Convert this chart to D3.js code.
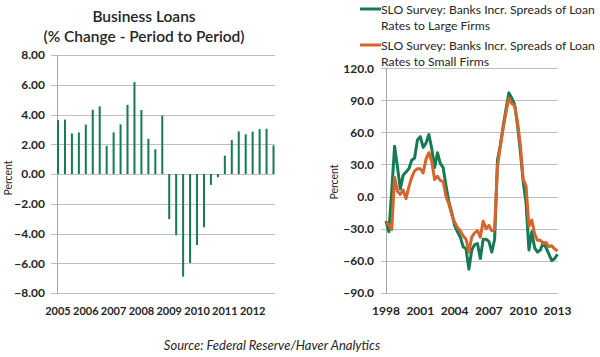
<!DOCTYPE html>
<html><head><meta charset="utf-8">
<script src="https://cdn.jsdelivr.net/npm/d3@7/dist/d3.min.js"></script>
<style>
html,body{margin:0;padding:0;background:#fff;}
svg{display:block;font-family:Lato,"Open Sans",sans-serif;}
</style></head>
<body>
<svg id="chart" width="600" height="357"></svg>
<script>
// ---------- Left chart data (Business Loans, quarterly % change) ----------
const loanQuarters = [
  "2005Q1","2005Q2","2005Q3","2005Q4","2006Q1","2006Q2","2006Q3","2006Q4",
  "2007Q1","2007Q2","2007Q3","2007Q4","2008Q1","2008Q2","2008Q3","2008Q4",
  "2009Q1","2009Q2","2009Q3","2009Q4","2010Q1","2010Q2","2010Q3","2010Q4",
  "2011Q1","2011Q2","2011Q3","2011Q4","2012Q1","2012Q2","2012Q3","2012Q4"];
const loanValues = [
  3.62, 3.66, 2.73, 2.79, 3.32, 4.32, 4.55, 1.90,
  2.80, 3.34, 4.65, 6.18, 4.30, 2.37, 1.66, 3.93,
  -3.03, -4.12, -6.90, -5.98, -4.78, -3.58, -0.73, -0.22,
  1.23, 2.28, 2.87, 2.67, 2.85, 3.02, 3.04, 1.92];
const loanYTicks = [8, 6, 4, 2, 0, -2, -4, -6, -8];
const loanXLabels = ["2005","2006","2007","2008","2009","2010","2011","2012"];

// ---------- Right chart data (SLO survey, net % of banks) ----------
const sloQuarters = [
  "1998Q1","1998Q2","1998Q3","1998Q4","1999Q1","1999Q2","1999Q3","1999Q4",
  "2000Q1","2000Q2","2000Q3","2000Q4","2001Q1","2001Q2","2001Q3","2001Q4",
  "2002Q1","2002Q2","2002Q3","2002Q4","2003Q1","2003Q2","2003Q3","2003Q4",
  "2004Q1","2004Q2","2004Q3","2004Q4","2005Q1","2005Q2","2005Q3","2005Q4",
  "2006Q1","2006Q2","2006Q3","2006Q4","2007Q1","2007Q2","2007Q3","2007Q4",
  "2008Q1","2008Q2","2008Q3","2008Q4","2009Q1","2009Q2","2009Q3","2009Q4",
  "2010Q1","2010Q2","2010Q3","2010Q4","2011Q1","2011Q2","2011Q3","2011Q4",
  "2012Q1","2012Q2","2012Q3","2012Q4","2013Q1"];
const largeFirms = [
  -23, -33, 5, 47, 28, 7, 20, 23,
  26, 34, 36, 53, 56, 46, 50, 58,
  45, 27, 41, 31, 27, 10, -5, -15,
  -27, -33, -38, -47, -49, -68, -50, -45,
  -44, -58, -40, -40, -42, -52, -40, 34,
  48, 66, 82, 97, 92, 86, 67, 42,
  14, -6, -50, -33, -48, -52, -50, -43,
  -48, -54, -60, -58, -54];
const smallFirms = [
  -25, -26, -31, 18, 5, 2, 6, -2,
  9, 18, 24, 26, 26, 22, 35, 41,
  33, 16, 19, 15, 14, 0, -7, -17,
  -24, -29, -32, -37, -40, -52, -38, -34,
  -32, -38, -23, -30, -27, -32, -31, 28,
  47, 64, 79, 92, 87, 85, 70, 48,
  16, 10, -28, -22, -35, -41, -41, -44,
  -43, -47, -46, -49, -51];
const sloYTicks = [120, 90, 60, 30, 0, -30, -60, -90];
const sloXLabels = ["1998","2001","2004","2007","2010","2013"];
const legendLabels = [
  ["SLO Survey: Banks Incr. Spreads of Loan", "Rates to Large Firms"],
  ["SLO Survey: Banks Incr. Spreads of Loan", "Rates to Small Firms"]];

const GREEN = "#167a52", ORANGE = "#d6642c", GRID = "#bfbfbf", TXT = "#262626";

const svg = d3.select("#chart");

// ================= LEFT CHART =================
const xL = d3.scalePoint().domain(loanQuarters).range([58, 273.5]);
const yL = d3.scaleLinear().domain([-8, 8]).range([293, 55]);
const gL = svg.append("g");

gL.append("g").selectAll("line").data(loanYTicks).join("line")
  .attr("x1", 51).attr("x2", 275)
  .attr("y1", d => Math.round(yL(d)) + 0.5).attr("y2", d => Math.round(yL(d)) + 0.5)
  .attr("stroke", GRID).attr("stroke-width", 1);
gL.append("line").attr("x1", 57.5).attr("x2", 57.5).attr("y1", 55).attr("y2", 293.5)
  .attr("stroke", "#a6a6a6");

gL.append("g").selectAll("text").data(loanYTicks).join("text")
  .attr("x", 45).attr("y", d => yL(d)).attr("dy", "0.36em")
  .attr("text-anchor", "end").attr("font-size", 12).attr("font-weight", 700)
  .attr("fill", TXT).text(d => d3.format(".2f")(d));

gL.append("g").selectAll("rect").data(loanValues).join("rect")
  .attr("x", (d, i) => xL(loanQuarters[i]) - 1)
  .attr("width", 2)
  .attr("y", d => yL(Math.max(0, d)))
  .attr("height", d => Math.abs(yL(d) - yL(0)))
  .attr("fill", GREEN);

gL.append("g").selectAll("text").data(loanXLabels).join("text")
  .attr("x", d => xL(d + "Q1")).attr("y", 315)
  .attr("text-anchor", "middle").attr("font-size", 11).attr("font-weight", 700)
  .attr("fill", TXT).text(d => d);

gL.append("text").attr("transform", "translate(12,178) rotate(-90)")
  .attr("text-anchor", "middle").attr("font-size", 10.5).attr("fill", TXT).text("Percent");

gL.append("text").attr("x", 144).attr("y", 22).attr("text-anchor", "middle")
  .attr("font-size", 15.5).attr("font-weight", 600).attr("fill", TXT).text("Business Loans");
gL.append("text").attr("x", 144).attr("y", 42).attr("text-anchor", "middle")
  .attr("font-size", 15.5).attr("font-weight", 600).attr("fill", TXT).text("(% Change - Period to Period)");

// ================= RIGHT CHART =================
const qToYear = q => +q.slice(0, 4) + (+q.slice(5) - 1) / 4;
const xR = d3.scaleLinear().domain([1998, 2013]).range([386, 557.5]);
const yR = d3.scaleLinear().domain([-90, 120]).range([292.7, 68.3]);
const gR = svg.append("g");

gR.append("g").selectAll("line").data(sloYTicks).join("line")
  .attr("x1", 381).attr("x2", 558)
  .attr("y1", d => Math.round(yR(d)) + 0.5).attr("y2", d => Math.round(yR(d)) + 0.5)
  .attr("stroke", GRID);
gR.append("line").attr("x1", 386.5).attr("x2", 386.5).attr("y1", 68).attr("y2", 293.5)
  .attr("stroke", "#a6a6a6");

gR.append("g").selectAll("text").data(sloYTicks).join("text")
  .attr("x", 374).attr("y", d => yR(d)).attr("dy", "0.36em")
  .attr("text-anchor", "end").attr("font-size", 12).attr("font-weight", 700)
  .attr("fill", TXT).text(d => d3.format(".1f")(d));

gR.append("g").selectAll("text").data(sloXLabels).join("text")
  .attr("x", d => xR(+d)).attr("y", 315)
  .attr("text-anchor", "middle").attr("font-size", 12).attr("font-weight", 700)
  .attr("fill", TXT).text(d => d);

gR.append("text").attr("transform", "translate(338,182) rotate(-90)")
  .attr("text-anchor", "middle").attr("font-size", 10.5).attr("fill", TXT).text("Percent");

const line = d3.line().x((d, i) => xR(qToYear(sloQuarters[i]))).y(d => yR(d));
gR.append("path").datum(largeFirms).attr("d", line)
  .attr("fill", "none").attr("stroke", GREEN).attr("stroke-width", 3).attr("stroke-linejoin", "round");
gR.append("path").datum(smallFirms).attr("d", line)
  .attr("fill", "none").attr("stroke", ORANGE).attr("stroke-width", 3).attr("stroke-linejoin", "round");

// legend
const legColors = [GREEN, ORANGE];
const legY = [9, 45];
legendLabels.forEach((lab, k) => {
  gR.append("line").attr("x1", 360).attr("x2", 381).attr("y1", legY[k]).attr("y2", legY[k])
    .attr("stroke", legColors[k]).attr("stroke-width", 3);
  lab.forEach((t, j) => {
    gR.append("text").attr("x", 381).attr("y", legY[k] + 4.5 + j * 16)
      .attr("font-size", 12.2).attr("fill", TXT).text(t);
  });
});

// source
svg.append("text").attr("x", 272).attr("y", 350).attr("text-anchor", "middle")
  .attr("font-size", 13).attr("font-style", "italic").attr("fill", TXT)
  .text("Source: Federal Reserve/Haver Analytics");
</script>
</body></html>
